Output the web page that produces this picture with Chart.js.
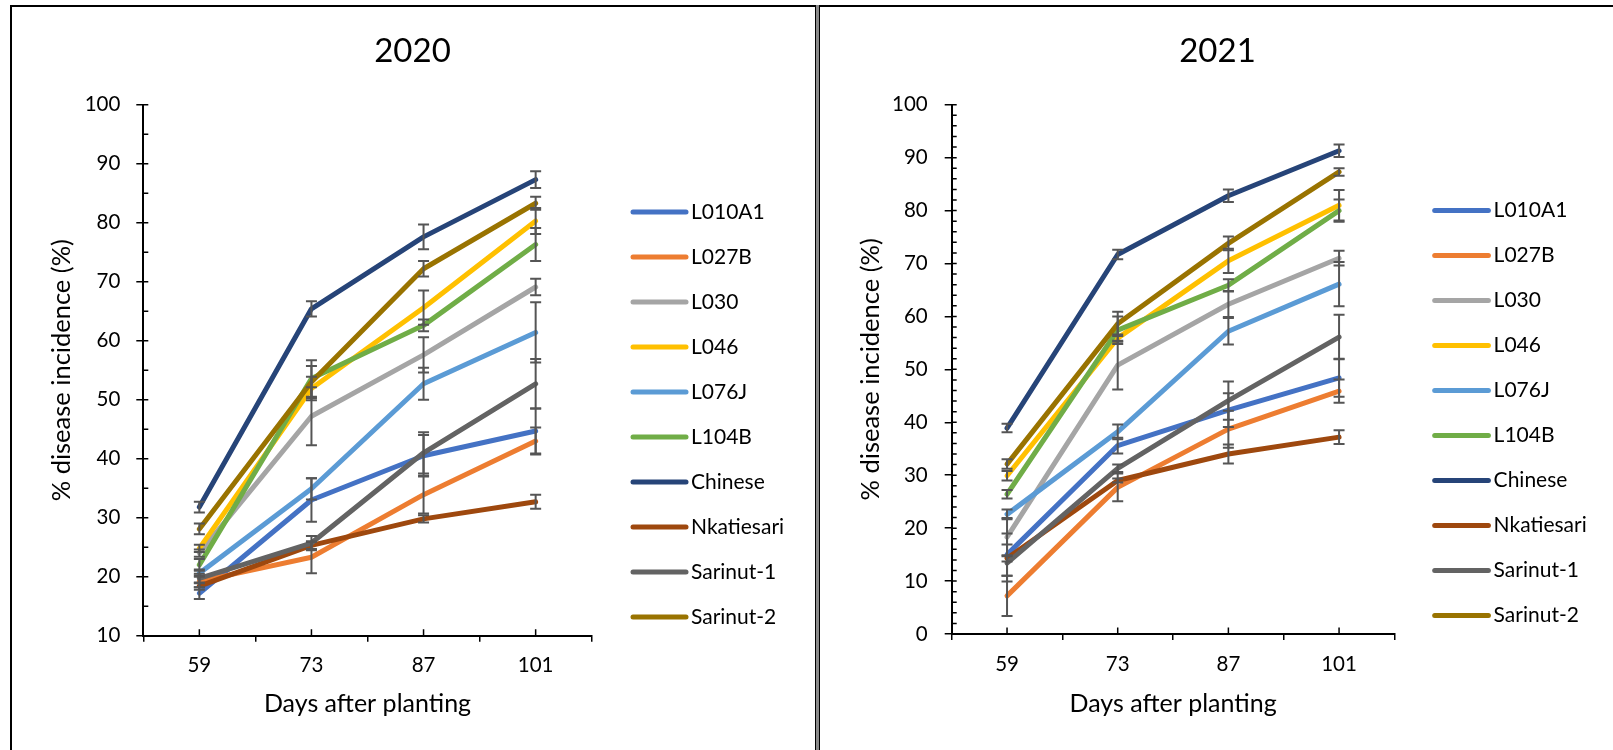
<!DOCTYPE html>
<html><head><meta charset="utf-8">
<script src="https://cdn.jsdelivr.net/npm/chart.js@4.4.1/dist/chart.umd.min.js"></script>
<style>
html,body{margin:0;padding:0;background:#fff;width:1613px;height:750px;overflow:hidden;position:relative}
.ln{position:absolute;background:#000}
canvas{position:absolute}
</style></head><body>
<div class="ln" style="left:9.5px;top:4.5px;width:1603.5px;height:2px"></div>
<div class="ln" style="left:9.5px;top:4.5px;width:2px;height:746px"></div>
<div style="position:absolute;left:814.5px;top:5px;width:5.5px;height:745px;background:#8a8a8a;border-left:1.5px solid #000;border-right:1.5px solid #000;box-sizing:border-box"></div>
<canvas id="c2020" width="802" height="743" style="left:12px;top:7px"></canvas>
<canvas id="c2021" width="793" height="743" style="left:820px;top:7px"></canvas>
<script>
// ---- categories / labels ----
const days = ['59', '73', '87', '101'];
const varieties = ['L010A1', 'L027B', 'L030', 'L046', 'L076J', 'L104B', 'Chinese', 'Nkatiesari', 'Sarinut-1', 'Sarinut-2'];
const colors = ['#4472C4', '#ED7D31', '#A5A5A5', '#FFC000', '#5B9BD5', '#70AD47', '#264478', '#9E480E', '#636363', '#997300'];

// ---- 2020: % disease incidence ----
const L010A1_2020 = [17.2, 33.0, 40.5, 44.7];
const L027B_2020 = [19.2, 23.3, 33.9, 43.0];
const L030_2020 = [24.0, 47.2, 57.6, 69.1];
const L046_2020 = [24.8, 51.9, 65.6, 80.3];
const L076J_2020 = [20.6, 34.9, 52.7, 61.4];
const L104B_2020 = [22.0, 53.6, 62.6, 76.3];
const Chinese_2020 = [31.8, 65.4, 77.6, 87.3];
const Nkatiesari_2020 = [18.4, 25.3, 29.8, 32.7];
const Sarinut1_2020 = [19.7, 25.7, 41.0, 52.7];
const Sarinut2_2020 = [28.1, 53.0, 72.2, 83.3];
// 2020 error bars (+/-)
const L010A1_2020_err = [1.0, 3.7, 3.5, 3.8];
const L027B_2020_err = [1.0, 2.7, 3.2, 2.3];
const L030_2020_err = [0.6, 4.9, 3.0, 1.4];
const L046_2020_err = [0.6, 2.0, 2.9, 2.2];
const L076J_2020_err = [0.6, 1.8, 2.7, 5.1];
const L104B_2020_err = [1.0, 3.1, 1.0, 2.8];
const Chinese_2020_err = [0.9, 1.3, 2.1, 1.4];
const Nkatiesari_2020_err = [0.6, 0.6, 0.6, 1.2];
const Sarinut1_2020_err = [0.8, 1.2, 3.5, 4.2];
const Sarinut2_2020_err = [0.9, 2.7, 1.3, 1.1];

// ---- 2021: % disease incidence ----
const L010A1_2021 = [15.0, 35.6, 42.3, 48.4];
const L027B_2021 = [7.2, 27.7, 38.7, 45.9];
const L030_2021 = [18.3, 50.8, 62.3, 71.0];
const L046_2021 = [29.9, 55.9, 70.5, 81.0];
const L076J_2021 = [22.6, 38.2, 57.2, 66.1];
const L104B_2021 = [26.4, 57.4, 65.9, 80.0];
const Chinese_2021 = [38.9, 71.7, 82.8, 91.3];
const Nkatiesari_2021 = [14.3, 29.0, 34.0, 37.2];
const Sarinut1_2021 = [13.4, 31.3, 44.1, 56.1];
const Sarinut2_2021 = [32.1, 58.6, 73.8, 87.3];
// 2021 error bars (+/-)
const L010A1_2021_err = [4.0, 1.5, 3.2, 3.6];
const L027B_2021_err = [3.8, 2.6, 3.5, 2.2];
const L030_2021_err = [3.6, 4.6, 2.4, 1.4];
const L046_2021_err = [0.9, 0.7, 2.3, 2.9];
const L076J_2021_err = [0.9, 1.4, 2.5, 4.2];
const L104B_2021_err = [0.8, 2.6, 1.1, 2.1];
const Chinese_2021_err = [0.8, 0.9, 1.2, 1.2];
const Nkatiesari_2021_err = [0.6, 0.4, 1.8, 1.3];
const Sarinut1_2021_err = [3.5, 0.7, 3.6, 4.2];
const Sarinut2_2021_err = [0.9, 2.3, 1.3, 0.7];

const values2020 = [L010A1_2020, L027B_2020, L030_2020, L046_2020, L076J_2020, L104B_2020, Chinese_2020, Nkatiesari_2020, Sarinut1_2020, Sarinut2_2020];
const errors2020 = [L010A1_2020_err, L027B_2020_err, L030_2020_err, L046_2020_err, L076J_2020_err, L104B_2020_err, Chinese_2020_err, Nkatiesari_2020_err, Sarinut1_2020_err, Sarinut2_2020_err];
const values2021 = [L010A1_2021, L027B_2021, L030_2021, L046_2021, L076J_2021, L104B_2021, Chinese_2021, Nkatiesari_2021, Sarinut1_2021, Sarinut2_2021];
const errors2021 = [L010A1_2021_err, L027B_2021_err, L030_2021_err, L046_2021_err, L076J_2021_err, L104B_2021_err, Chinese_2021_err, Nkatiesari_2021_err, Sarinut1_2021_err, Sarinut2_2021_err];

const FONT = "Lato, 'Liberation Sans', Arial, sans-serif";

const errorBarPlugin = {
  id: 'errorBars',
  afterDatasetsDraw(chart, args, o) {
    const ctx = chart.ctx, ys = chart.scales.y;
    ctx.save();
    ctx.strokeStyle = o.color; ctx.lineWidth = o.width; ctx.lineCap = 'butt';
    chart.data.datasets.forEach((ds, i) => {
      const meta = chart.getDatasetMeta(i);
      meta.data.forEach((pt, j) => {
        const v = ds.data[j], e = ds.errors[j];
        const yt = ys.getPixelForValue(v + e), yb = ys.getPixelForValue(v - e), x = pt.x;
        ctx.beginPath();
        ctx.moveTo(x, yt); ctx.lineTo(x, yb);
        ctx.moveTo(x - o.cap, yt); ctx.lineTo(x + o.cap, yt);
        ctx.moveTo(x - o.cap, yb); ctx.lineTo(x + o.cap, yb);
        ctx.stroke();
      });
    });
    ctx.restore();
  }
};

const innerTicksPlugin = {
  id: 'innerTicks',
  afterDraw(chart, args, o) {
    const {ctx, chartArea} = chart; const x = chart.scales.x, y = chart.scales.y;
    ctx.save(); ctx.strokeStyle = '#000'; ctx.lineWidth = o.width;
    ctx.beginPath();
    for (let v = y.min; v <= y.max + 1e-9; v += o.yStep) {
      const py = y.getPixelForValue(v);
      ctx.moveTo(chartArea.left, py); ctx.lineTo(chartArea.left + o.yLen, py);
    }
    x.ticks.forEach((t, j) => {
      const px = x.getPixelForValue(j);
      ctx.moveTo(px, chartArea.bottom); ctx.lineTo(px, chartArea.bottom - o.xLen);
    });
    ctx.stroke(); ctx.restore();
  }
};

// Chart title (centred on the whole panel) and line legend on the right
const panelTextPlugin = {
  id: 'panelText',
  afterDraw(chart, args, o) {
    const ctx = chart.ctx;
    ctx.save();
    ctx.fillStyle = '#000'; ctx.textBaseline = 'middle';
    ctx.font = o.titleSize + 'px ' + FONT; ctx.textAlign = 'center';
    ctx.fillText(o.title, o.titleX, o.titleY);
    ctx.font = o.size + 'px ' + FONT; ctx.textAlign = 'left';
    chart.data.datasets.forEach((ds, i) => {
      const yy = o.top + i * o.gap;
      ctx.strokeStyle = ds.borderColor; ctx.lineWidth = ds.borderWidth; ctx.lineCap = 'round';
      ctx.beginPath(); ctx.moveTo(o.x0, yy); ctx.lineTo(o.x1, yy); ctx.stroke();
      ctx.fillText(ds.label, o.tx, yy);
    });
    ctx.restore();
  }
};

function makeChart(id, title, values, errors, p) {
  const datasets = varieties.map((name, i) => ({
    label: name, data: values[i], errors: errors[i],
    borderColor: colors[i], backgroundColor: colors[i], borderWidth: 5,
    pointRadius: 0, pointHoverRadius: 0, tension: 0,
    borderCapStyle: 'round', borderJoinStyle: 'round',
    order: varieties.length - i
  }));
  return new Chart(document.getElementById(id), {
    type: 'line',
    data: { labels: days, datasets },
    plugins: [errorBarPlugin, innerTicksPlugin, panelTextPlugin],
    options: {
      responsive: false, animation: false, devicePixelRatio: 1,
      layout: { padding: { left: 0, right: p.padRight, top: 97.7, bottom: 0 } },
      plugins: {
        legend: { display: false }, tooltip: { enabled: false }, title: { display: false },
        errorBars: { color: '#555555', width: 2, cap: 5.5 },
        innerTicks: { width: 1.5, yStep: p.minorStep, yLen: 5, xLen: 6.5 },
        panelText: Object.assign({ title: title, titleSize: 33, titleY: 44.4 }, p.legend)
      },
      scales: {
        x: {
          type: 'category', offset: true,
          grid: { offset: true, display: true, drawOnChartArea: false, drawTicks: true, tickLength: 6, color: '#000', lineWidth: 1.5 },
          border: { display: true, color: '#000', width: 2 },
          ticks: { color: '#000', font: { family: FONT, size: 20.5 }, padding: p.xTickPad, maxRotation: 0, autoSkip: false },
          title: { display: true, text: 'Days after planting', color: '#000', font: { family: FONT, size: 25 }, padding: { top: 0, bottom: p.xTitlePad } },
          afterFit: s => { s.height = p.xHeight; }
        },
        y: {
          min: p.yMin, max: 100,
          ticks: { stepSize: 10, color: '#000', font: { family: FONT, size: 20.5 }, padding: p.yTickPad },
          grid: { display: true, drawOnChartArea: false, drawTicks: true, tickLength: 7, color: '#000', lineWidth: 1.5 },
          border: { display: true, color: '#000', width: 2 },
          title: { display: true, text: '% disease incidence (%)', color: '#000', font: { family: FONT, size: 25.5 }, padding: { top: p.yTitlePad, bottom: 0 } },
          afterFit: s => { s.width = p.yWidth; }
        }
      }
    }
  });
}

makeChart('c2020', '2020', values2020, errors2020, {
  padRight: 222.3, yMin: 10, minorStep: 5, xHeight: 114.3, yWidth: 131.3,
  xTickPad: 11, xTitlePad: 30.6, yTickPad: 16, yTitlePad: 34.4,
  legend: { titleX: 400.5, x0: 621, x1: 674, tx: 679, top: 205, gap: 45, size: 21 }
});
makeChart('c2021', '2021', values2021, errors2021, {
  padRight: 218.6, yMin: 0, minorStep: 2, xHeight: 116, yWidth: 131.7,
  xTickPad: 11.7, xTitlePad: 31.5, yTickPad: 17, yTitlePad: 35.1,
  legend: { titleX: 397.5, x0: 614.7, x1: 668.4, tx: 673.6, top: 203.5, gap: 45, size: 21 }
});
</script>
</body></html>
